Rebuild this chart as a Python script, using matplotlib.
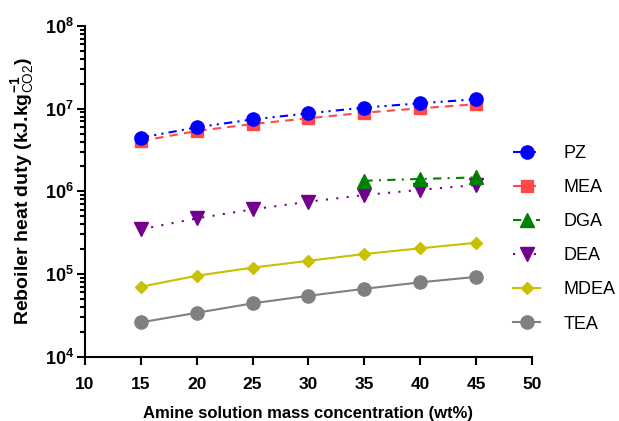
import math
import matplotlib
matplotlib.use("Agg")
import matplotlib.pyplot as plt
from matplotlib.ticker import FixedLocator, LogLocator, FuncFormatter, NullFormatter

plt.rcParams['font.family'] = ['Liberation Sans', 'DejaVu Sans']
plt.rcParams['mathtext.fontset'] = 'custom'
plt.rcParams['mathtext.rm'] = 'Liberation Sans'
plt.rcParams['mathtext.bf'] = 'Liberation Sans:bold'
plt.rcParams['mathtext.it'] = 'Liberation Sans:italic'
plt.rcParams['mathtext.sf'] = 'Liberation Sans'

conc = [15, 20, 25, 30, 35, 40, 45]
pz = [4.45e6, 5.94e6, 7.41e6, 8.77e6, 1.03e7, 1.16e7, 1.30e7]
mea = [4.06e6, 5.36e6, 6.52e6, 7.64e6, 8.93e6, 1.01e7, 1.13e7]
dga_conc = [35, 40, 45]
dga = [1.34e6, 1.41e6, 1.47e6]
dea = [3.46e5, 4.70e5, 6.04e5, 7.47e5, 9.0e5, 1.04e6, 1.19e6]
mdea = [6.98e4, 9.5e4, 1.19e5, 1.44e5, 1.74e5, 2.04e5, 2.38e5]
tea = [2.59e4, 3.38e4, 4.40e4, 5.43e4, 6.6e4, 7.9e4, 9.2e4]

x_ticks = [10, 15, 20, 25, 30, 35, 40, 45, 50]
y_ticks = [1e4, 1e5, 1e6, 1e7, 1e8]

fig = plt.figure(figsize=(6.19, 4.21), dpi=100)
ax = fig.add_axes([0.1373, 0.1532, 0.722, 0.7850])

lw = 1.5
ax.plot(conc, pz, color='#0000FF', marker='o', markersize=9.5, lw=lw,
        linestyle=(0, (4, 2.5, 1, 2.5, 1, 2.5)), label='PZ', zorder=6)
ax.plot(conc, mea, color='#FF4848', marker='s', markersize=8.5, lw=lw,
        linestyle=(0, (4, 3)), label='MEA', zorder=5)
ax.plot(dga_conc, dga, color='#008000', marker='^', markersize=9.5, lw=lw,
        linestyle=(0, (4, 3, 1, 3)), label='DGA', zorder=5)
ax.plot(conc, dea, color='#73008C', marker='v', markersize=9.5, lw=lw,
        linestyle=(0, (1, 4)), label='DEA', zorder=4)
ax.plot(conc, mdea, color='#C8C000', marker='D', markersize=6.5, lw=lw,
        linestyle='-', label='MDEA', zorder=4)
ax.plot(conc, tea, color='#808080', marker='o', markersize=9.5, lw=lw,
        linestyle='-', label='TEA', zorder=4)

ax.set_yscale('log')
ax.set_xlim(10, 50)
ax.set_ylim(1e4, 1e8)
ax.xaxis.set_major_locator(FixedLocator(x_ticks))
ax.yaxis.set_major_locator(FixedLocator(y_ticks))
ax.yaxis.set_minor_locator(LogLocator(base=10, subs=range(2, 10)))
ax.yaxis.set_minor_formatter(NullFormatter())

def yfmt(v, pos):
    n = int(round(math.log10(v)))
    return r'$\mathbf{10^{%d}}$' % n

ax.yaxis.set_major_formatter(FuncFormatter(yfmt))
ax.tick_params(axis='x', which='major', labelsize=12.5, width=1.5, length=6, direction='out', pad=9)
ax.tick_params(axis='y', which='major', labelsize=13, width=1.5, length=6, direction='out', pad=2)
ax.tick_params(axis='y', which='minor', width=1.5, length=3.5, direction='out')
for lab in ax.get_xticklabels():
    lab.set_fontweight('bold')

for s in ['top', 'right']:
    ax.spines[s].set_visible(False)
for s in ['left', 'bottom']:
    ax.spines[s].set_linewidth(1.5)

ax.set_xlabel('Amine solution mass concentration (wt%)', fontsize=12, fontweight='bold', labelpad=10)
ax.set_ylabel(r'Reboiler heat duty (kJ.kg$^{\mathbf{-1}}_{\mathrm{CO2}}$)', fontsize=14,
              fontweight='bold', labelpad=6)

leg = ax.legend(loc='center left', bbox_to_anchor=(0.829, 0.433), bbox_transform=fig.transFigure,
                frameon=False, fontsize=13, borderpad=0, labelspacing=0.95,
                handlelength=1.5, handletextpad=1.3, borderaxespad=0)

fig.savefig('out.png', dpi=100)
